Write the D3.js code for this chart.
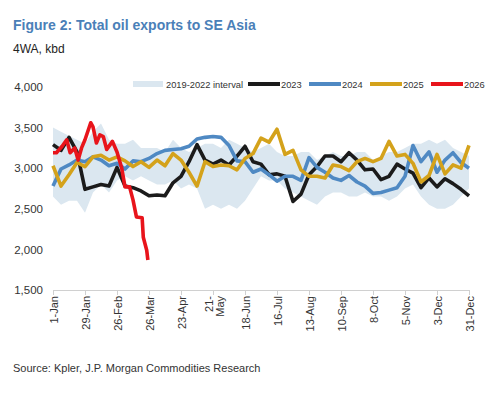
<!DOCTYPE html>
<html>
<head>
<meta charset="utf-8">
<script src="https://cdn.jsdelivr.net/npm/d3@7/dist/d3.min.js"></script>
<style>
  body { margin: 0; background: #fff; }
  svg text { font-family: "Liberation Sans", Arial, sans-serif; }
</style>
</head>
<body>
<div id="chart"></div>
<script>
// day-of-year grid for the weekly readings (1-Jan = 0)
var weekDays = d3.range(0, 365, 7);

var bandHigh = [3500, 3450, 3400, 3350, 3300, 3450, 3550, 3350, 3300, 3300, 3350, 3250, 3250, 3250, 3200, 3350, 3250, 3200, 3250, 3300, 3300, 3250, 3350, 3300, 3250, 3200, 3250, 3300, 3200, 3150, 3150, 3200, 3200, 3100, 3150, 3200, 3150, 3150, 3200, 3200, 3100, 3150, 3200, 3200, 3250, 3300, 3300, 3350, 3300, 3350, 3250, 3200, 3150];
var bandLow = [2650, 2550, 2600, 2600, 2450, 2700, 2800, 2700, 2850, 2900, 2850, 2900, 2850, 2800, 2800, 2850, 2750, 2800, 2750, 2500, 2550, 2500, 2550, 2500, 2600, 2750, 2900, 2850, 2850, 2750, 2700, 2650, 2600, 2550, 2650, 2700, 2700, 2650, 2650, 2700, 2650, 2650, 2600, 2650, 2750, 2800, 2650, 2550, 2500, 2500, 2550, 2650, 2750];

var y2023 = [3290, 3220, 3380, 3200, 2740, 2770, 2800, 2780, 3010, 2780, 2760, 2720, 2660, 2670, 2660, 2820, 2900, 3080, 3290, 3100, 3050, 3100, 3040, 3150, 3270, 3080, 3050, 2920, 2930, 2900, 2590, 2680, 2920, 3020, 3150, 3150, 3080, 3190, 3100, 2980, 2990, 2860, 2900, 3050, 2990, 2940, 2760, 2880, 2770, 2870, 2810, 2740, 2660];
var y2024 = [2780, 2990, 3040, 3100, 3080, 3140, 3100, 3030, 3060, 2990, 3090, 3080, 3120, 3180, 3220, 3230, 3240, 3270, 3360, 3380, 3390, 3380, 3280, 3090, 3080, 2950, 2990, 2920, 2840, 2900, 2900, 2850, 3130, 3010, 2950, 2880, 2850, 2910, 2830, 2780, 2690, 2700, 2730, 2760, 2900, 3280, 3080, 3200, 2950, 3100, 3190, 3070, 3000];
var y2025 = [3030, 2780, 2920, 3070, 3020, 3140, 3160, 3100, 3140, 3090, 3020, 3080, 3010, 3100, 3030, 3180, 3100, 2950, 2780, 3080, 3020, 3040, 3030, 2980, 3120, 3180, 3370, 3320, 3480, 3170, 3220, 2980, 2900, 2900, 2880, 3040, 3020, 2970, 3080, 3120, 3080, 3120, 3330, 3150, 3170, 3060, 2830, 2910, 3170, 2930, 3040, 3000, 3280];

// 2026 so far (finer readings)
var days2026 = [0, 3, 8, 12, 15, 19, 22, 25, 28, 33, 35, 38, 41, 44, 47, 50, 52, 56, 60, 63, 67, 70, 73, 78, 79, 82, 83];
var y2026 = [3190, 3190, 3270, 3350, 3190, 3250, 3100, 3250, 3350, 3560, 3510, 3310, 3410, 3390, 3230, 3290, 3330, 3200, 3010, 2770, 2770, 2610, 2400, 2390, 2150, 1990, 1870];

var tickDays = [0, 28, 56, 84, 112, 140, 168, 196, 224, 252, 280, 308, 336, 364];
var tickLabels = ["1-Jan", "29-Jan", "26-Feb", "26-Mar", "23-Apr", "21-|May", "18-Jun", "16-Jul", "13-Aug", "10-Sep", "8-Oct", "5-Nov", "3-Dec", "31-Dec"];
var yTicks = [1500, 2000, 2500, 3000, 3500, 4000];

var series = [
  { name: "2023", values: y2023, color: "#1b1b1b" },
  { name: "2024", values: y2024, color: "#4f89c3" },
  { name: "2025", values: y2025, color: "#d4a21b" }
];

var width = 500, height = 396;

var svg = d3.select("#chart").append("svg")
  .attr("width", width)
  .attr("height", height);

var x = d3.scaleLinear().domain([0, 364]).range([53, 469]);
var y = d3.scaleLinear().domain([1500, 4000]).range([290, 87]);

// titles
svg.append("text")
  .attr("x", 13).attr("y", 30)
  .attr("fill", "#4a80b8")
  .attr("font-size", 14)
  .attr("font-weight", "bold")
  .text("Figure 2: Total oil exports to SE Asia");

svg.append("text")
  .attr("x", 13).attr("y", 53)
  .attr("fill", "#222")
  .attr("font-size", 12)
  .text("4WA, kbd");

svg.append("text")
  .attr("x", 13).attr("y", 372)
  .attr("fill", "#333")
  .attr("font-size", 11)
  .text("Source: Kpler, J.P. Morgan Commodities Research");

// band
var area = d3.area()
  .x(function(d, i) { return x(weekDays[i]); })
  .y0(function(d, i) { return y(bandLow[i]); })
  .y1(function(d, i) { return y(bandHigh[i]); });

svg.append("path")
  .datum(bandHigh)
  .attr("fill", "#dbe7f0")
  .attr("d", area);

// lines
var line = d3.line()
  .x(function(d, i) { return x(weekDays[i]); })
  .y(function(d) { return y(d); });

series.forEach(function(s) {
  svg.append("path")
    .datum(s.values)
    .attr("fill", "none")
    .attr("stroke", s.color)
    .attr("stroke-width", 3.6)
    .attr("stroke-linejoin", "round")
    .attr("d", line);
});

var line26 = d3.line()
  .x(function(d, i) { return x(days2026[i]); })
  .y(function(d) { return y(d); });

svg.append("path")
  .datum(y2026)
  .attr("fill", "none")
  .attr("stroke", "#e8141b")
  .attr("stroke-width", 3.6)
  .attr("stroke-linejoin", "round")
  .attr("d", line26);

// y axis labels (no axis line)
var yAxis = d3.axisLeft(y).tickValues(yTicks).tickSize(0).tickPadding(0)
  .tickFormat(d3.format(","));
var gy = svg.append("g").attr("transform", "translate(43,0)").call(yAxis);
gy.select(".domain").remove();
gy.selectAll("text").attr("font-size", 11.5).attr("fill", "#333")
  .attr("font-family", "Liberation Sans, Arial, sans-serif");

// x axis
var xAxis = d3.axisBottom(x).tickValues(tickDays).tickSize(5).tickFormat("");
var gx = svg.append("g").attr("transform", "translate(0,290)").call(xAxis);
gx.select(".domain").attr("stroke", "#d0d0d0");
gx.selectAll(".tick line").attr("stroke", "#d0d0d0");

gx.selectAll(".tick").each(function(d, i) {
  var parts = tickLabels[i].split("|");
  var t = d3.select(this).append("text")
    .attr("transform", "rotate(-90)")
    .attr("text-anchor", "end")
    .attr("fill", "#333")
    .attr("font-size", 11)
    .attr("font-family", "Liberation Sans, Arial, sans-serif");
  parts.forEach(function(p, j) {
    t.append("tspan")
      .attr("x", -6)
      .attr("y", parts.length === 1 ? 4 : (j === 0 ? -1 : 10))
      .text(p);
  });
});

// legend
var legend = svg.append("g").attr("font-size", 9.3).attr("fill", "#333");
legend.append("rect")
  .attr("x", 133).attr("y", 81).attr("width", 30).attr("height", 6)
  .attr("fill", "#dbe7f0");
legend.append("text").attr("x", 166).attr("y", 87.5).text("2019-2022 interval");

var legendItems = [
  { name: "2023", color: "#1b1b1b", x0: 248 },
  { name: "2024", color: "#4f89c3", x0: 309 },
  { name: "2025", color: "#d4a21b", x0: 370 },
  { name: "2026", color: "#e8141b", x0: 431 }
];
legendItems.forEach(function(l) {
  legend.append("line")
    .attr("x1", l.x0).attr("x2", l.x0 + 32)
    .attr("y1", 84).attr("y2", 84)
    .attr("stroke", l.color).attr("stroke-width", 4);
  legend.append("text").attr("x", l.x0 + 33).attr("y", 87.5).text(l.name);
});
</script>
</body>
</html>
